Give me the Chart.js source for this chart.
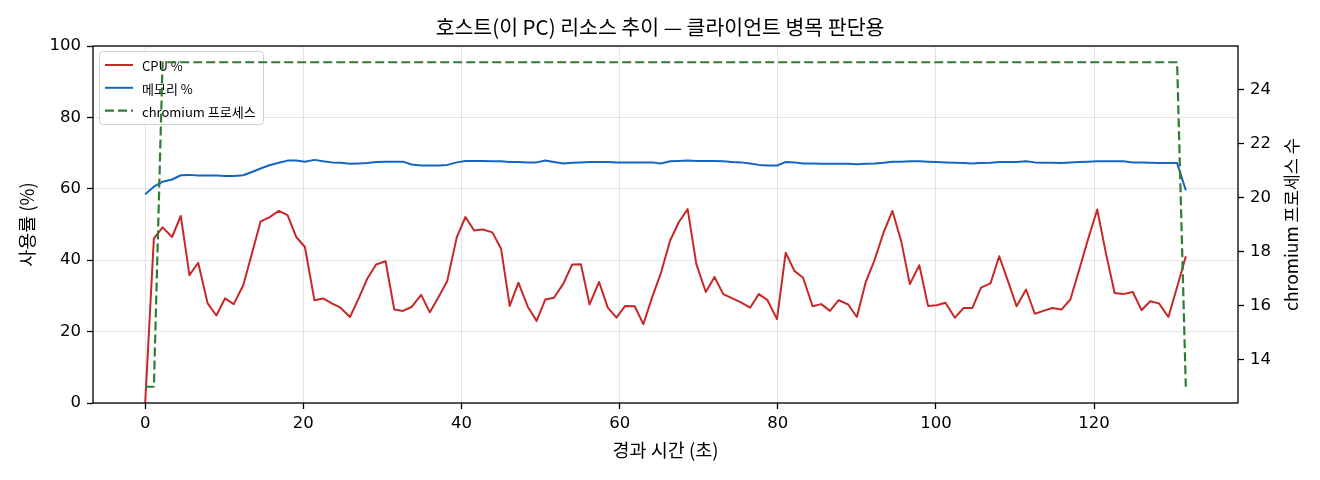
<!DOCTYPE html>
<html>
<head>
<meta charset="utf-8">
<script src="https://cdn.jsdelivr.net/npm/chart.js@4.4.0/dist/chart.umd.min.js"></script>
<style>
  body { margin: 0; background: #fff; }
</style>
</head>
<body>
<canvas id="resourceChart" width="1320" height="480"></canvas>
<script>
// host (this PC) resource trend, sampled about once per second

var elapsed = [0, 1.1, 2.2, 3.4, 4.5, 5.6, 6.7, 7.9, 9.0, 10.1,
  11.2, 12.4, 13.5, 14.6, 15.7, 16.9, 18.0, 19.1, 20.2, 21.4,
  22.5, 23.6, 24.7, 25.9, 27.0, 28.1, 29.2, 30.4, 31.5, 32.6,
  33.7, 34.9, 36.0, 37.1, 38.2, 39.4, 40.5, 41.6, 42.7, 43.9,
  45.0, 46.1, 47.2, 48.4, 49.5, 50.6, 51.7, 52.9, 54.0, 55.1,
  56.2, 57.4, 58.5, 59.6, 60.7, 61.9, 63.0, 64.1, 65.2, 66.4,
  67.5, 68.6, 69.7, 70.9, 72.0, 73.1, 74.2, 75.4, 76.5, 77.6,
  78.7, 79.9, 81.0, 82.1, 83.2, 84.4, 85.5, 86.6, 87.7, 88.9,
  90.0, 91.1, 92.2, 93.4, 94.5, 95.6, 96.7, 97.9, 99.0, 100.1,
  101.2, 102.4, 103.5, 104.6, 105.7, 106.9, 108.0, 109.1, 110.2, 111.4,
  112.5, 113.6, 114.7, 115.9, 117.0, 118.1, 119.2, 120.4, 121.5, 122.6,
  123.7, 124.9, 126.0, 127.1, 128.2, 129.4, 130.5, 131.6];

var cpuPct = [0, 46.1, 49.2, 46.5, 52.4, 35.8, 39.3, 27.9, 24.5, 29.3,
  27.7, 33.0, 41.9, 50.9, 52.0, 53.8, 52.6, 46.5, 43.7, 28.8,
  29.3, 27.9, 26.7, 24.1, 29.3, 34.9, 38.8, 39.7, 26.2, 25.8,
  26.9, 30.3, 25.4, 29.7, 34.2, 46.4, 52.1, 48.3, 48.6, 47.8,
  43.3, 27.2, 33.7, 26.9, 23.0, 29.0, 29.5, 33.5, 38.8, 38.9,
  27.6, 33.9, 26.7, 23.9, 27.2, 27.1, 22.1, 29.5, 36.3, 45.6,
  50.7, 54.3, 38.9, 31.1, 35.3, 30.5, 29.4, 28.1, 26.7, 30.5,
  28.8, 23.5, 42.1, 37.0, 35.1, 27.1, 27.7, 25.8, 28.8, 27.6,
  24.1, 33.7, 39.8, 47.9, 53.8, 45.4, 33.3, 38.6, 27.2, 27.4,
  28.1, 23.9, 26.6, 26.6, 32.3, 33.5, 41.1, 34.2, 27.1, 31.8,
  25.0, 25.8, 26.6, 26.2, 29.0, 37.2, 45.6, 54.2, 41.9, 30.8,
  30.5, 31.1, 26.0, 28.5, 27.9, 24.1, 32.5, 41.1];

var memPct = [58.5, 60.6, 62.0, 62.6, 63.8, 63.9, 63.7, 63.7, 63.7, 63.6,
  63.6, 63.8, 64.7, 65.7, 66.6, 67.3, 67.9, 67.9, 67.6, 68.1,
  67.7, 67.4, 67.3, 67.0, 67.1, 67.2, 67.5, 67.6, 67.6, 67.6,
  66.8, 66.5, 66.5, 66.5, 66.7, 67.4, 67.8, 67.8, 67.8, 67.7,
  67.7, 67.5, 67.5, 67.4, 67.4, 67.9, 67.5, 67.1, 67.3, 67.4,
  67.5, 67.5, 67.5, 67.4, 67.4, 67.4, 67.4, 67.4, 67.1, 67.7,
  67.8, 67.9, 67.8, 67.8, 67.8, 67.7, 67.5, 67.4, 67.1, 66.7,
  66.5, 66.5, 67.5, 67.4, 67.1, 67.1, 67.0, 67.0, 67.0, 67.0,
  66.9, 67.0, 67.1, 67.3, 67.6, 67.6, 67.7, 67.7, 67.6, 67.5,
  67.4, 67.3, 67.2, 67.1, 67.2, 67.3, 67.5, 67.5, 67.5, 67.7,
  67.4, 67.3, 67.3, 67.2, 67.4, 67.5, 67.6, 67.7, 67.7, 67.7,
  67.7, 67.4, 67.4, 67.3, 67.2, 67.2, 67.2, 59.6];

var chromiumProcs = [13, 13, 25, 25, 25, 25, 25, 25, 25, 25,
  25, 25, 25, 25, 25, 25, 25, 25, 25, 25,
  25, 25, 25, 25, 25, 25, 25, 25, 25, 25,
  25, 25, 25, 25, 25, 25, 25, 25, 25, 25,
  25, 25, 25, 25, 25, 25, 25, 25, 25, 25,
  25, 25, 25, 25, 25, 25, 25, 25, 25, 25,
  25, 25, 25, 25, 25, 25, 25, 25, 25, 25,
  25, 25, 25, 25, 25, 25, 25, 25, 25, 25,
  25, 25, 25, 25, 25, 25, 25, 25, 25, 25,
  25, 25, 25, 25, 25, 25, 25, 25, 25, 25,
  25, 25, 25, 25, 25, 25, 25, 25, 25, 25,
  25, 25, 25, 25, 25, 25, 25, 13];

var krFont = '"Noto Sans CJK KR", "DejaVu Sans", sans-serif';
var tickFont = '"DejaVu Sans", sans-serif';
var rightTitle = 'chromium 프로세스 수';

function toPoints(values) {
  return values.map(function (v, i) { return { x: elapsed[i], y: v }; });
}

// matplotlib style legend box in the upper left; drawn under the twin-axis line
var boxLegend = {
  id: 'boxLegend',
  afterDatasetDraw: function (chart, args) {
    if (args.index !== 1) return;
    var c = chart.ctx;
    var area = chart.chartArea;
    var x0 = area.left + 6.5, y0 = area.top + 5.5, w = 164, h = 73;
    c.save();
    c.beginPath();
    c.roundRect(x0, y0, w, h, 3);
    c.fillStyle = 'rgba(255,255,255,0.8)';
    c.fill();
    c.strokeStyle = '#d0d0d0';
    c.lineWidth = 1;
    c.stroke();
    c.font = '13px ' + krFont;
    c.textBaseline = 'middle';
    chart.data.datasets.forEach(function (ds, i) {
      var y = y0 + 13.5 + i * 22.8;
      c.beginPath();
      c.setLineDash(ds.borderDash || []);
      c.strokeStyle = ds.borderColor;
      c.lineWidth = ds.borderWidth;
      c.moveTo(x0 + 5.5, y);
      c.lineTo(x0 + 33.5, y);
      c.stroke();
      c.setLineDash([]);
      c.fillStyle = '#000';
      c.fillText(ds.label, x0 + 42.5, y + 1);
    });
    c.restore();
  }
};

// full black frame round the plot area, plus the right axis title read bottom-up
var frame = {
  id: 'frame',
  afterDraw: function (chart) {
    var c = chart.ctx;
    var a = chart.chartArea;
    c.save();
    c.strokeStyle = '#000';
    c.lineWidth = 1.3;
    c.strokeRect(a.left, a.top, a.right - a.left, a.bottom - a.top);
    c.translate(1291, (a.top + a.bottom) / 2);
    c.rotate(-Math.PI / 2);
    c.font = '17.5px ' + krFont;
    c.fillStyle = '#000';
    c.textAlign = 'center';
    c.textBaseline = 'middle';
    c.fillText(rightTitle, 0, 0);
    c.restore();
  }
};

var ctx = document.getElementById('resourceChart');

var resourceChart = new Chart(ctx, {
  type: 'line',
  data: {
    datasets: [{
      label: 'CPU %',
      data: toPoints(cpuPct),
      borderColor: '#c62828',
      borderWidth: 2,
      yAxisID: 'y',
      order: 3
    }, {
      label: '메모리 %',
      data: toPoints(memPct),
      borderColor: '#1565c0',
      borderWidth: 2,
      yAxisID: 'y',
      order: 2
    }, {
      label: 'chromium 프로세스',
      data: toPoints(chromiumProcs),
      borderColor: '#2e7d32',
      borderWidth: 2.2,
      borderDash: [9, 4],
      yAxisID: 'y2',
      order: 1
    }]
  },
  options: {
    responsive: false,
    animation: false,
    layout: { padding: 0 },
    elements: {
      point: { radius: 0 },
      line: { tension: 0, fill: false, borderJoinStyle: 'round' }
    },
    plugins: {
      legend: { display: false },
      tooltip: { enabled: false },
      title: {
        display: true,
        text: '호스트(이 PC) 리소스 추이 — 클라이언트 병목 판단용',
        color: '#000',
        font: { family: krFont, size: 20.5, weight: 'normal' },
        padding: { top: 15, bottom: 6.4 }
      }
    },
    scales: {
      x: {
        type: 'linear',
        min: -6.6,
        max: 138.2,
        ticks: { stepSize: 20, includeBounds: false, color: '#000', padding: 5,
                 font: { family: tickFont, size: 16.5 } },
        grid: { color: 'rgba(0,0,0,0.1)', tickColor: '#000', tickLength: 6, tickWidth: 1.3 },
        border: { display: false },
        title: { display: true, text: '경과 시간 (초)', color: '#000',
                 font: { family: krFont, size: 18.5 }, padding: { top: 4, bottom: 19 } },
        afterFit: function (s) { s.height = 77; }
      },
      y: {
        position: 'left',
        min: 0,
        max: 100,
        ticks: { stepSize: 20, includeBounds: false, color: '#000', padding: 6,
                 font: { family: tickFont, size: 16.5 } },
        grid: { color: 'rgba(0,0,0,0.1)', tickColor: '#000', tickLength: 6, tickWidth: 1.3 },
        border: { display: false },
        title: { display: true, text: '사용률 (%)', color: '#000',
                 font: { family: krFont, size: 18.5 }, padding: { top: 15.6, bottom: 4 } },
        afterFit: function (s) { s.width = 93; }
      },
      y2: {
        position: 'right',
        min: 12.4,
        max: 25.6,
        ticks: { stepSize: 2, includeBounds: false, color: '#000', padding: 6,
                 font: { family: tickFont, size: 16.5 } },
        grid: { drawOnChartArea: false, tickColor: '#000', tickLength: 6, tickWidth: 1.3 },
        border: { display: false },
        title: { display: false },
        afterFit: function (s) { s.width = 82; }
      }
    }
  },
  plugins: [boxLegend, frame]
});
</script>
</body>
</html>
